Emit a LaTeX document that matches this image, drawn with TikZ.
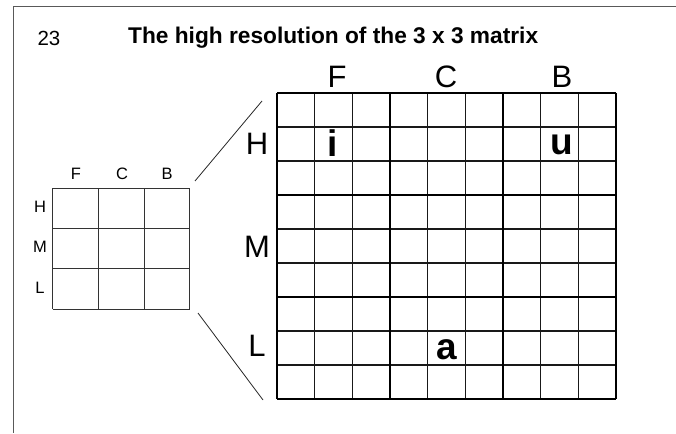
\documentclass[tikz,border=0pt]{standalone}
\usepackage{fontspec}
\setmainfont{Liberation Sans}
\begin{document}
\begin{tikzpicture}[x=1pt,y=-1pt,
  frameline/.style={draw=black!65,line width=1pt},
  smallgrid/.style={draw=black!80,line width=1pt},
  minorline/.style={draw=black!90,line width=1.3pt},
  majorline/.style={draw=black,line width=2.4pt},
  zoomline/.style={draw=black!85,line width=0.8pt},
  smalllab/.style={font=\fontsize{16.5}{18}\selectfont,inner sep=0pt},
  biglab/.style={font=\fontsize{31}{33}\selectfont,inner sep=0pt},
  cellmark/.style={font=\fontsize{37}{39}\selectfont\bfseries,inner sep=0pt},
  box/.style={inner sep=0pt,anchor=north west}]
\useasboundingbox (0,0) rectangle (676,433);
% frame
\coordinate (ftr) at (676,7);
\coordinate (ftl) at (13,7);
\coordinate (fbl) at (13,433);
\draw[frameline] (ftr) -- (ftl) -- (fbl);
% title
\node[font=\fontsize{20.5}{22}\selectfont,inner sep=0pt] (num) at (49,38) {23};
\node[font=\fontsize{22.7}{24}\selectfont\bfseries,inner sep=0pt,anchor=west] (title) at (128,38) {The high resolution of the 3 x 3 matrix};
% small grid
\node[box,minimum width=137pt,minimum height=121pt] (small) at (52.7,188.3) {};
\foreach \i in {0,...,3} {
  \draw[smallgrid] ({52.7+\i*45.67},188.3) -- ({52.7+\i*45.67},309.3);
  \draw[smallgrid] (52.7,{188.3+\i*40.33}) -- (189.7,{188.3+\i*40.33});
}
\node[smalllab] (sF) at (76,174) {F};
\node[smalllab] (sC) at (122,174) {C};
\node[smalllab] (sB) at (167,174) {B};
\node[smalllab] (sH) at (40,207) {H};
\node[smalllab] (sM) at (40,247) {M};
\node[smalllab] (sL) at (40,288) {L};
% big grid
\node[box,minimum width=339pt,minimum height=306pt] (big) at (277,93) {};
\foreach \i in {1,2,4,5,7,8} {
  \draw[minorline] ({277+\i*37.667},93) -- ({277+\i*37.667},399);
  \draw[minorline] (277,{93+\i*34}) -- (616,{93+\i*34});
}
\foreach \i in {0,3,6,9} {
  \draw[majorline] ({277+\i*37.667},93) -- ({277+\i*37.667},399);
  \draw[majorline] (277,{93+\i*34}) -- (616,{93+\i*34});
}
\node[biglab] (bF) at (337,77) {F};
\node[biglab] (bC) at (446,77) {C};
\node[biglab] (bB) at (562,77) {B};
\node[biglab] (bH) at (257,144) {H};
\node[biglab] (bM) at (257,247) {M};
\node[biglab] (bL) at (257,346) {L};
\node[cellmark] (ci) at (333,143) {i};
\node[cellmark] (cu) at (561.5,145) {u};
\node[cellmark] (ca) at (447,350) {a};
% zoom lines
\coordinate (z1a) at (195,181);
\coordinate (z1b) at (262,101);
\coordinate (z2a) at (198,313);
\coordinate (z2b) at (263,400);
\draw[zoomline] (z1a) -- (z1b);
\draw[zoomline] (z2a) -- (z2b);
\end{tikzpicture}
\end{document}
